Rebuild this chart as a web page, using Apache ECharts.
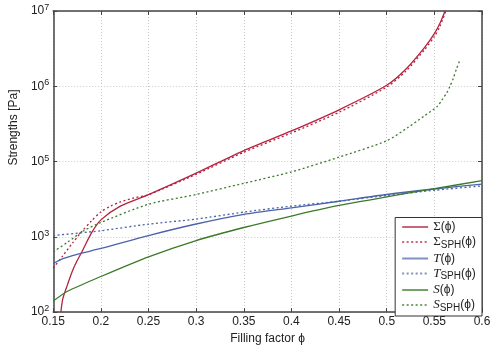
<!DOCTYPE html>
<html><head><meta charset="utf-8">
<script src="https://cdn.jsdelivr.net/npm/echarts@6/dist/echarts.min.js"></script>
<style>html,body{margin:0;padding:0;background:#fff}#c{width:500px;height:350px}</style>
</head><body><div id="c"></div>
<script>
// x tick labels and y tick label exponents (as printed on the reference axis)
const xTicks = [0.15, 0.2, 0.25, 0.3, 0.35, 0.4, 0.45, 0.5, 0.55, 0.6];
const yExp = ['2', '3', '5', '6', '7'];

const phiSigma = [0.158,0.16,0.165,0.17,0.175,0.18,0.19,0.2,0.22,0.25,0.3,0.35,0.4,0.45,0.5,0.52,0.54,0.55,0.556,0.5612];
const sigma = [100,150,232,350,480,630,1120,1680,2540,3630,7000,14000,25500,48700,103000,168000,331000,500000,692000,1000000];

const phiSigmaSPH = [0.15,0.16,0.17,0.18,0.19,0.2,0.21,0.22,0.235,0.25,0.3,0.35,0.4,0.45,0.5,0.52,0.54,0.55,0.556,0.562];
const sigmaSPH = [385,560,820,1180,1620,2150,2550,2900,3300,3630,6760,13300,24000,45200,97700,158000,310000,457000,631000,1000000];

const phiT = [0.15,0.16,0.175,0.2,0.25,0.3,0.35,0.4,0.45,0.5,0.55,0.6];
const tau = [442,513,586,700,1040,1480,1990,2430,2970,3650,4320,5010];

const phiTSPH = [0.15,0.2,0.25,0.3,0.35,0.4,0.45,0.5,0.55,0.6];
const tauSPH = [1040,1205,1475,1720,2130,2560,2970,3550,4150,4750];

const phiS = [0.15,0.165,0.2,0.25,0.3,0.35,0.4,0.45,0.5,0.55,0.6];
const sStr = [140,189,297,542,893,1330,1890,2610,3400,4360,5570];

const phiSSPH = [0.15,0.165,0.182,0.2,0.25,0.3,0.35,0.4,0.45,0.5,0.522,0.539,0.553,0.558,0.563,0.5663,0.5697,0.5732,0.5765];
const sSPH = [630,849,1205,1550,2710,3650,5140,7300,11450,18900,28200,40000,54000,66000,82000,100000,126000,170000,218000];

const names = ['Σ(ϕ)', 'Σ_SPH(ϕ)', 'T(ϕ)', 'T_SPH(ϕ)', 'S(ϕ)', 'S_SPH(ϕ)'];
const legendRich = {
  'Σ(ϕ)': '{g|Σ}{p|(ϕ)}',
  'Σ_SPH(ϕ)': '{g|Σ}{sub|SPH}{p|(ϕ)}',
  'T(ϕ)': '{gi|T}{p|(ϕ)}',
  'T_SPH(ϕ)': '{gi|T}{sub|SPH}{p|(ϕ)}',
  'S(ϕ)': '{gi|S}{p|(ϕ)}',
  'S_SPH(ϕ)': '{gi|S}{sub|SPH}{p|(ϕ)}'
};

const RED = '#b5223f', BLUE = '#4a63a9', GREEN = '#3b7a29';
const zip = (a, b) => a.map((x, i) => [x, b[i]]);

function mk(name, xs, ys, color, dashed) {
  return {
    name: name, type: 'line', data: zip(xs, ys), symbol: 'none',
    smooth: 0.25, clip: true,
    lineStyle: { color: color, width: 1.3, type: dashed ? [2, 2.5] : 'solid' },
    itemStyle: { color: color }
  };
}

const chart = echarts.init(document.getElementById('c'), null, { renderer: 'canvas' });
const FONT = 'Liberation Sans';
chart.setOption({
  animation: false,
  backgroundColor: '#fff',
  textStyle: { fontFamily: FONT },
  grid: { left: 42, right: 18, top: 11, bottom: 32, containLabel: false },
  xAxis: [{
    type: 'value', min: 0.15, max: 0.6, interval: 0.05,
    name: 'Filling factor ϕ', nameLocation: 'middle', nameGap: 18,
    nameTextStyle: { fontFamily: FONT, fontSize: 12, color: '#222' },
    axisLine: { show: true, lineStyle: { color: '#444', width: 1.5 } },
    axisTick: { show: true, inside: true, length: 4, lineStyle: { color: '#444' } },
    axisLabel: { fontFamily: FONT, fontSize: 12, color: '#222', margin: 4,
      formatter: v => { const t = xTicks.find(x => Math.abs(x - v) < 1e-6); return t === undefined ? '' : String(t); } },
    splitLine: { show: true, lineStyle: { color: '#c8c8c8', type: [1, 2], width: 1 } }
  }, {
    type: 'value', min: 0.15, max: 0.6, interval: 0.05, position: 'top',
    axisLine: { show: true, lineStyle: { color: '#444', width: 1.5 } },
    axisTick: { show: true, inside: true, length: 4, lineStyle: { color: '#444' } },
    axisLabel: { show: false }, splitLine: { show: false }
  }],
  yAxis: [{
    type: 'log', logBase: 10, min: 100, max: 1000000,
    name: 'Strengths [Pa]', nameLocation: 'middle', nameGap: 30,
    nameTextStyle: { fontFamily: FONT, fontSize: 12, color: '#222', padding: [0, 0, 0, 68] },
    axisLine: { show: true, lineStyle: { color: '#444', width: 1.5 } },
    axisTick: { show: true, inside: true, length: 4, lineStyle: { color: '#444' } },
    minorTick: { show: false },
    axisLabel: { fontFamily: FONT, fontSize: 12, color: '#222', margin: 4,
      formatter: v => { const i = Math.round(Math.log10(v)) - 2; return '10{sup|' + yExp[i] + '}'; },
      rich: { sup: { fontSize: 9, verticalAlign: 'top', padding: [0, 0, 7, 0], color: '#222', fontFamily: FONT } } },
    splitLine: { show: true, lineStyle: { color: '#c8c8c8', type: [1, 2], width: 1 } }
  }, {
    type: 'log', logBase: 10, min: 100, max: 1000000, position: 'right',
    axisLine: { show: true, lineStyle: { color: '#444', width: 1.5 } },
    axisTick: { show: true, inside: true, length: 4, lineStyle: { color: '#444' } },
    axisLabel: { show: false }, splitLine: { show: false }
  }],
  legend: {
    orient: 'vertical', right: 18, bottom: 34,
    data: names,
    backgroundColor: '#fff', borderColor: '#333', borderWidth: 1, borderRadius: 0,
    padding: [3, 6, 3, 6], itemGap: 2, itemWidth: 26, itemHeight: 12,
    inactiveColor: '#ccc',
    itemStyle: { opacity: 0 },
    lineStyle: { opacity: 0.7, width: 2 },
    formatter: n => legendRich[n],
    textStyle: { fontFamily: FONT, fontSize: 12, color: '#222',
      rich: {
        g: { fontFamily: 'Liberation Serif', fontSize: 13, color: '#222' },
        gi: { fontFamily: 'Liberation Serif', fontStyle: 'italic', fontSize: 13, color: '#222' },
        p: { fontFamily: FONT, fontSize: 12, color: '#222' },
        sub: { fontFamily: FONT, fontSize: 10, color: '#222', verticalAlign: 'bottom', padding: [6, 0, 0, 0] }
      } }
  },
  series: [
    mk(names[0], phiSigma, sigma, RED, false),
    mk(names[1], phiSigmaSPH, sigmaSPH, RED, true),
    mk(names[2], phiT, tau, BLUE, false),
    mk(names[3], phiTSPH, tauSPH, BLUE, true),
    mk(names[4], phiS, sStr, GREEN, false),
    mk(names[5], phiSSPH, sSPH, GREEN, true)
  ]
});
</script></body></html>
